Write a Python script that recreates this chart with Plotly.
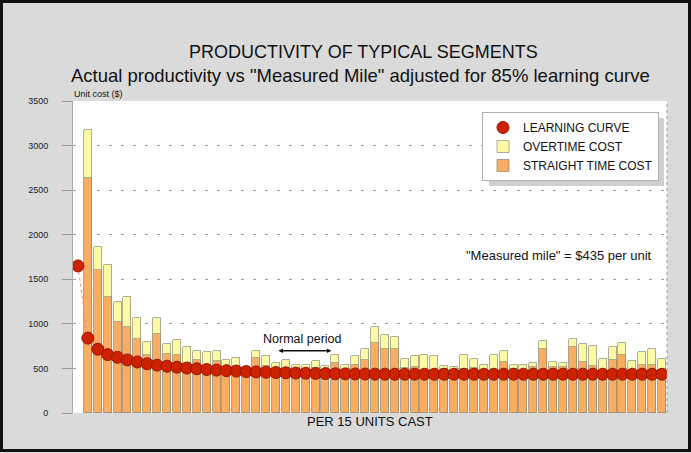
import plotly.graph_objects as go

# ---- data ----
units = list(range(60))  # index 0 = start of learning curve (no bar)

straight_time = [None,
    2640, 1605, 1300, 1025, 965, 830, 650, 885, 667, 650,
    560, 600, 537, 580, 515, 530, 520, 615, 530, 480,
    510, 480, 480, 500, 481, 563, 480, 537, 593, 785,
    714, 714, 500, 518, 470, 480, 489, 480, 496, 500,
    480, 470, 574, 492, 480, 511, 723, 511, 511, 742,
    574, 526, 462, 600, 649, 481, 537, 537, 481]

total_cost = [None,
    3170, 1865, 1655, 1245, 1300, 1070, 795, 1070, 778, 815,
    735, 700, 682, 692, 600, 615, 520, 700, 638, 560,
    598, 537, 537, 581, 526, 649, 537, 637, 716, 970,
    870, 848, 602, 637, 649, 634, 522, 518, 649, 611,
    540, 656, 695, 537, 537, 563, 809, 574, 563, 831,
    772, 753, 611, 735, 790, 581, 679, 719, 611]

overtime = [None if s is None else t - s for s, t in zip(straight_time, total_cost)]

learning_curve = [1650, 840, 715, 655, 625, 595, 572, 552, 537, 525,
                  514, 504, 496, 488, 481, 475, 470, 465, 461, 457,
                  454, 451, 448, 446, 444, 442, 440, 439, 438, 437,
                  436, 435, 435, 435, 435, 435, 435, 435, 435, 435,
                  435, 435, 435, 435, 435, 435, 435, 435, 435, 435,
                  435, 435, 435, 435, 435, 435, 435, 435, 435, 435]

y_ticks = [0, 500, 1000, 1500, 2000, 2500, 3000, 3500]

FONT = "Liberation Sans, Arial, sans-serif"

fig = go.Figure()
fig.add_trace(go.Bar(
    x=units, y=straight_time, name="STRAIGHT TIME COST",
    marker=dict(color="#f9ad62", line=dict(color="#9a8a70", width=0.8)),
    width=0.8, legendrank=3))
fig.add_trace(go.Bar(
    x=units, y=overtime, name="OVERTIME COST",
    marker=dict(color="#fdfaa6", line=dict(color="#9a9a80", width=0.8)),
    width=0.8, legendrank=2))
fig.add_trace(go.Scatter(
    x=units, y=learning_curve, name="LEARNING CURVE line", mode="lines",
    line=dict(color="#f08a8a", width=1, dash="dot"), showlegend=False))
fig.add_trace(go.Scatter(
    x=units, y=learning_curve, name="LEARNING CURVE", mode="markers",
    marker=dict(size=12, color="#cc2200", line=dict(color="#9a1500", width=1)),
    legendrank=1))

W, H = 691, 453
L, R, T, B = 73, 24, 101, 40
pw, ph = W - L - R, H - T - B

def px(xp):
    return (xp - L) / pw

def py(yp):
    return (H - B - yp) / ph

fig.update_layout(
    width=W, height=H,
    margin=dict(l=L, r=R, t=T, b=B),
    paper_bgcolor="#dadada",
    plot_bgcolor="white",
    barmode="stack",
    bargap=0,
    font=dict(family=FONT, color="#111"),
    showlegend=True,
    legend=dict(x=px(482), y=py(112), xanchor="left", yanchor="top",
                bgcolor="white", bordercolor="#b0b0b0", borderwidth=1,
                font=dict(size=12, family=FONT, color="#111"),
                traceorder="normal", itemwidth=30, tracegroupgap=0),
    xaxis=dict(range=[-0.5, 59.5], showticklabels=False, ticks="",
               showgrid=False, zeroline=False, showline=False),
    yaxis=dict(range=[0, 3500], tickvals=y_ticks, ticktext=[str(v) for v in y_ticks],
               showgrid=True, gridcolor="#999", griddash="3px,9px", gridwidth=1,
               zeroline=False, showline=True, linecolor="#aaa", linewidth=1,
               ticks="outside", ticklen=10, tickcolor="#999",
               tickfont=dict(size=9, family=FONT, color="#222"),
               ticklabelstandoff=12),
    shapes=[
        dict(type="rect", xref="paper", yref="paper",
             x0=px(1.5), x1=px(689.5), y0=py(1.5), y1=py(450.5),
             line=dict(color="#111", width=3), fillcolor="rgba(0,0,0,0)", layer="above"),
        dict(type="line", xref="paper", yref="paper", x0=1, x1=1, y0=0, y1=1,
             line=dict(color="#999", width=1, dash="dot")),
        dict(type="rect", xref="paper", yref="paper",
             x0=px(489), x1=px(664), y0=py(186), y1=py(118),
             fillcolor="#cfcfcf", line=dict(width=0), layer="above"),
    ],
    annotations=[
        dict(text="PRODUCTIVITY OF TYPICAL SEGMENTS", xref="paper", yref="paper",
             x=px(363), y=py(40), showarrow=False, font=dict(size=18, color="#111")),
        dict(text="Actual productivity vs \"Measured Mile\" adjusted for 85% learning curve",
             xref="paper", yref="paper", x=px(360), y=py(63), showarrow=False,
             font=dict(size=18.5, color="#111")),
        dict(text="Unit cost ($)", xref="paper", yref="paper", x=px(72), y=py(87),
             xanchor="left", showarrow=False, font=dict(size=9, color="#111")),
        dict(text="PER 15 UNITS CAST", xref="paper", yref="paper", x=px(370), y=py(431),
             showarrow=False, font=dict(size=13, color="#111")),
        dict(text="\"Measured mile\" = $435 per unit", xref="x", yref="y",
             x=48.6, y=1767, showarrow=False, font=dict(size=13, color="#111")),
        dict(text="Normal period", xref="x", yref="y", x=22.7, y=830,
             showarrow=False, font=dict(size=12.5, color="#111")),
        dict(text="", xref="x", yref="y", axref="x", ayref="y",
             x=25.6, y=697, ax=20.1, ay=697, showarrow=True,
             arrowhead=2, arrowside="end+start", arrowsize=0.6, arrowwidth=1.5,
             arrowcolor="#111"),
    ],
)

fig.write_html("out.html", config={"displayModeBar": False},
               post_script="document.body.style.margin='0';")
